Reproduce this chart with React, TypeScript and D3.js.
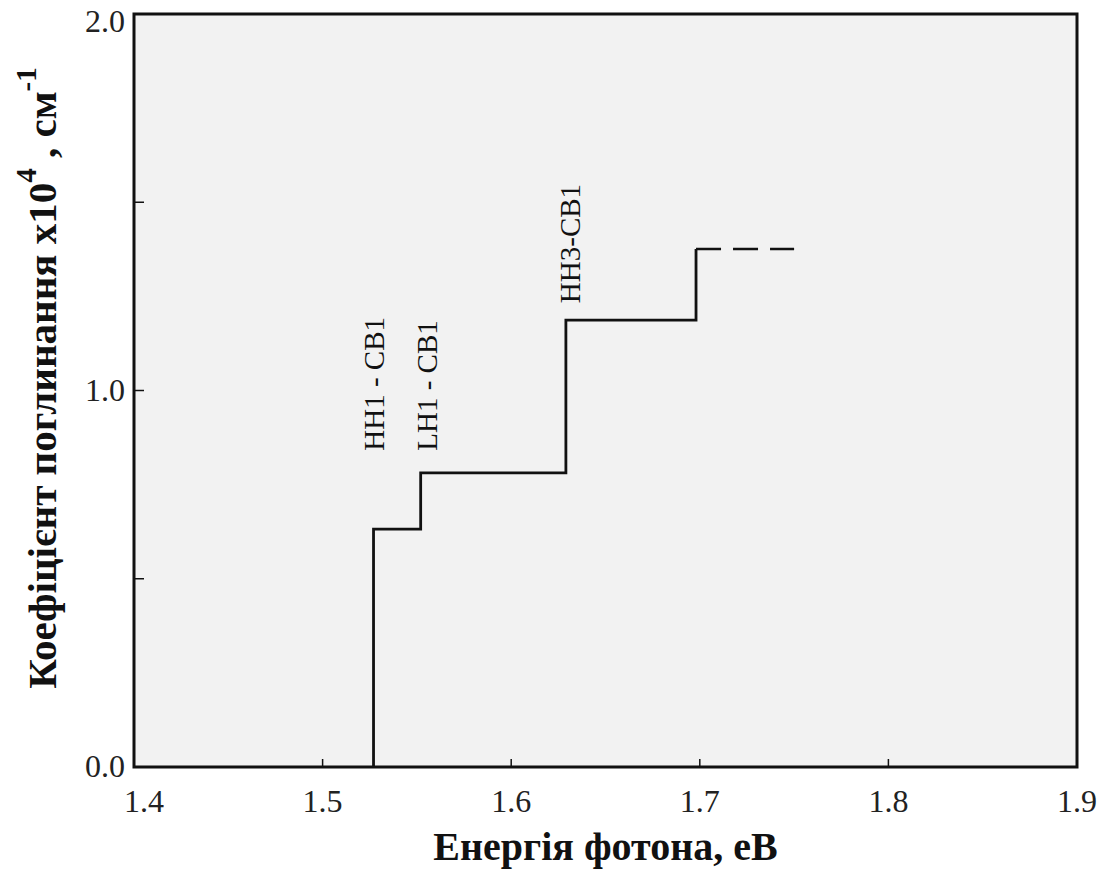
import { useEffect, useRef } from "react";
import * as d3 from "d3";

// step corners of the absorption edge (energy, eV / coefficient x10^4)
const stepEnergy = [1.527, 1.527, 1.552, 1.552, 1.629, 1.629, 1.698, 1.698];
const stepAlpha = [0.0, 0.632, 0.632, 0.781, 0.781, 1.187, 1.187, 1.376];
// dashed continuation
const dashEnergy = [1.698, 1.75];
const dashAlpha = [1.376, 1.376];

const xTicks = [1.4, 1.5, 1.6, 1.7, 1.8, 1.9];
const yMajor = [0.0, 1.0, 2.0];
const yMinor = [0.5, 1.5];

const labels = ["HH1 - CB1", "LH1 - CB1", "HH3-CB1"];
const labelEnergy = [1.5285, 1.5565, 1.6325];
const labelAlpha = [0.84, 0.84, 1.232];

const App = () => {
    const svgRef = useRef<SVGSVGElement>(null);

    useEffect(() => {
        const W = 1106;
        const H = 872;
        const margin = { top: 14, right: 29, bottom: 105, left: 134 };
        const width = W - margin.left - margin.right;
        const height = H - margin.top - margin.bottom;
        const font = "'Liberation Serif', 'Times New Roman', serif";

        const root = d3.select(svgRef.current);
        root.selectAll("*").remove();
        root.attr("width", W).attr("height", H);

        const svg = root.append("g").attr("transform", `translate(${margin.left},${margin.top})`);

        const x = d3.scaleLinear().domain([1.4, 1.9]).range([0, width]);
        const y = d3.scaleLinear().domain([0, 2]).range([height, 0]);

        // panel background
        svg.append("rect")
            .attr("width", width)
            .attr("height", height)
            .attr("fill", "#f2f2f2");

        // inward ticks
        xTicks.forEach((t) => {
            svg.append("line")
                .attr("x1", x(t)).attr("x2", x(t))
                .attr("y1", height).attr("y2", height - 8)
                .attr("stroke", "#111").attr("stroke-width", 1.5);
            svg.append("text")
                .attr("x", Math.max(x(t), 10)).attr("y", height + 45)
                .attr("text-anchor", "middle")
                .attr("font-family", font).attr("font-size", 32)
                .attr("fill", "#222")
                .text(d3.format(".1f")(t));
        });
        yMajor.concat(yMinor).forEach((t) => {
            svg.append("line")
                .attr("x1", 0).attr("x2", 10)
                .attr("y1", y(t)).attr("y2", y(t))
                .attr("stroke", "#111").attr("stroke-width", 1.5);
        });
        yMajor.forEach((t) => {
            svg.append("text")
                .attr("x", -9).attr("y", Math.max(y(t) + 10, 18))
                .attr("text-anchor", "end")
                .attr("font-family", font).attr("font-size", 32)
                .attr("fill", "#222")
                .text(d3.format(".1f")(t));
        });

        // frame
        svg.append("rect")
            .attr("width", width)
            .attr("height", height)
            .attr("fill", "none")
            .attr("stroke", "#111")
            .attr("stroke-width", 3);

        const stepLine = d3.line<number>()
            .x((_, i) => x(stepEnergy[i]))
            .y((_, i) => y(stepAlpha[i]));
        svg.append("path")
            .attr("d", stepLine(stepEnergy))
            .attr("fill", "none")
            .attr("stroke", "#111")
            .attr("stroke-width", 2.8);

        const dashLine = d3.line<number>()
            .x((_, i) => x(dashEnergy[i]))
            .y((_, i) => y(dashAlpha[i]));
        svg.append("path")
            .attr("d", dashLine(dashEnergy))
            .attr("fill", "none")
            .attr("stroke", "#111")
            .attr("stroke-width", 2.5)
            .attr("stroke-dasharray", "25,12");

        // transition labels
        labels.forEach((l, i) => {
            svg.append("text")
                .attr("transform", `translate(${x(labelEnergy[i]) + 8},${y(labelAlpha[i])}) rotate(-90)`)
                .attr("font-family", font).attr("font-size", 29)
                .attr("fill", "#111")
                .text(l);
        });

        // axis titles
        svg.append("text")
            .attr("x", width / 2).attr("y", height + 93)
            .attr("text-anchor", "middle")
            .attr("font-family", font).attr("font-size", 40).attr("font-weight", "bold")
            .attr("fill", "#111")
            .text("Енергія фотона, еВ");

        const yt = svg.append("text")
            .attr("transform", `translate(-78,${378 - margin.top}) rotate(-90)`)
            .attr("text-anchor", "middle")
            .attr("font-family", font).attr("font-size", 41).attr("font-weight", "bold")
            .attr("fill", "#111");
        yt.append("tspan").text("Коефіцієнт поглинання x10");
        yt.append("tspan").attr("dy", -20).attr("font-size", 29).text("4");
        yt.append("tspan").attr("dy", 20).text(" , см");
        yt.append("tspan").attr("dy", -20).attr("font-size", 29).text("-1");
    }, []);

    return <svg ref={svgRef} style={{ display: "block", position: "absolute", left: 0, top: 0 }}></svg>;
};

export default App;
